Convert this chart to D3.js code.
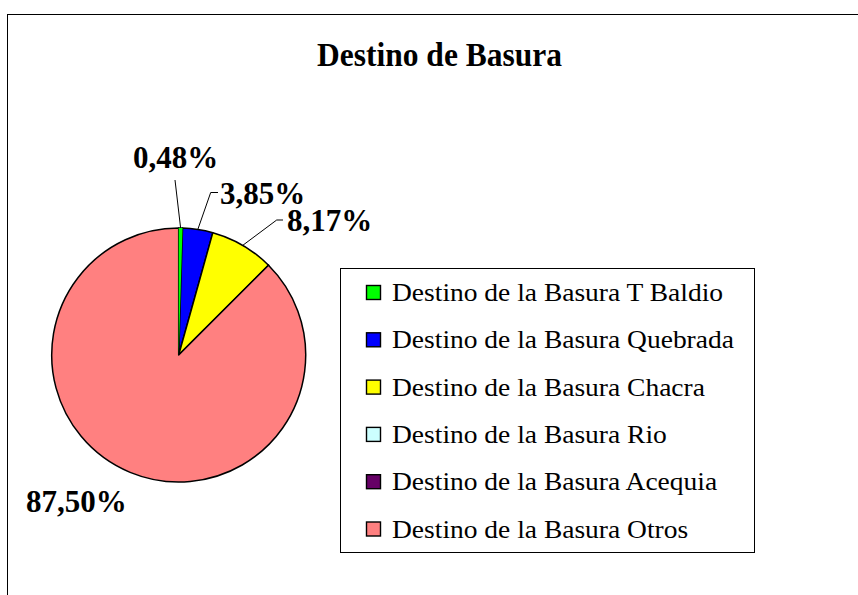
<!DOCTYPE html>
<html><head><meta charset="utf-8">
<script src="https://cdn.jsdelivr.net/npm/d3@7"></script>
<style>body{margin:0;background:#fff;} svg{display:block;}</style>
</head><body>
<script>
const title = "Destino de Basura";
const categories = ["Destino de la Basura T Baldio","Destino de la Basura Quebrada","Destino de la Basura Chacra","Destino de la Basura Rio","Destino de la Basura Acequia","Destino de la Basura Otros"];
const values = [0.48, 3.85, 8.17, 0, 0, 87.50];
const labels = ["0,48%","3,85%","8,17%","","","87,50%"];
const colors = ["#00ff00","#0000ff","#ffff00","#ccffff","#660066","#ff8080"];

const W = 858, H = 595;
const fontL = "'Liberation Serif', 'Times New Roman', serif";
const svg = d3.select("body").append("svg").attr("width", W).attr("height", H);
svg.append("rect").attr("x",7.5).attr("y",14.5).attr("width",1000).attr("height",1000)
  .attr("fill","#fff").attr("stroke","#000").attr("stroke-width",1);

svg.append("text").attr("x",439.5).attr("y",66).attr("text-anchor","middle")
  .attr("font-family",fontL).attr("font-weight","bold")
  .attr("font-size",33).attr("textLength",245).attr("lengthAdjust","spacingAndGlyphs").text(title);

const cx = 178.7, cy = 355, r = 127;
const pie = d3.pie().sort(null).value(d => d)(values);
const arc = d3.arc().innerRadius(0).outerRadius(r);
const g = svg.append("g").attr("transform",`translate(${cx},${cy})`);
g.selectAll("path").data(pie).join("path")
  .attr("d", arc).attr("fill",(d,i)=>colors[i])
  .attr("stroke","#000").attr("stroke-width",1.5).attr("stroke-linejoin","round");
g.append("path").datum(pie[0]).attr("d", arc).attr("fill",colors[0]).attr("stroke","none");

const labelPos = [
  {x:133, y:168},
  {x:220, y:204},
  {x:287, y:231},
  null, null,
  {x:26, y:512}
];
const lineDefs = {
  0: [[181.7,228],[175,180]],
  1: [[200,228],[210.7,192.5],[218,192.5]],
  2: [[246,246],[276.7,220],[283,220]]
};
pie.forEach((d,i)=>{
  if(!labels[i]) return;
  const p = labelPos[i];
  svg.append("text").attr("x",p.x).attr("y",p.y)
    .attr("font-family",fontL).attr("font-weight","bold").attr("font-size",31)
    .attr("fill","#000").text(labels[i]);
  if(lineDefs[i]){
    const a = (d.startAngle + d.endAngle)/2;
    const pts = lineDefs[i].slice();
    pts[0] = [cx + Math.sin(a)*r, cy - Math.cos(a)*r];
    svg.append("path").attr("d", d3.line()(pts)).attr("fill","none").attr("stroke","#000").attr("stroke-width",1);
  }
});

const lg = svg.append("g");
lg.append("rect").attr("x",340.5).attr("y",268.5).attr("width",414).attr("height",284)
  .attr("fill","#fff").attr("stroke","#000").attr("stroke-width",1);
const ly = d3.scalePoint().domain(categories).range([292.5,529]);
categories.forEach((c,i)=>{
  lg.append("rect").attr("x",366.5).attr("y",ly(c)-7).attr("width",14).attr("height",14)
    .attr("fill",colors[i]).attr("stroke","#000").attr("stroke-width",1.4);
  lg.append("text").attr("transform",`translate(392,${ly(c)+8.5}) scale(1.1,1)`)
    .attr("font-family",fontL).attr("font-size",25).attr("fill","#000").text(c);
});
</script>
</body></html>
